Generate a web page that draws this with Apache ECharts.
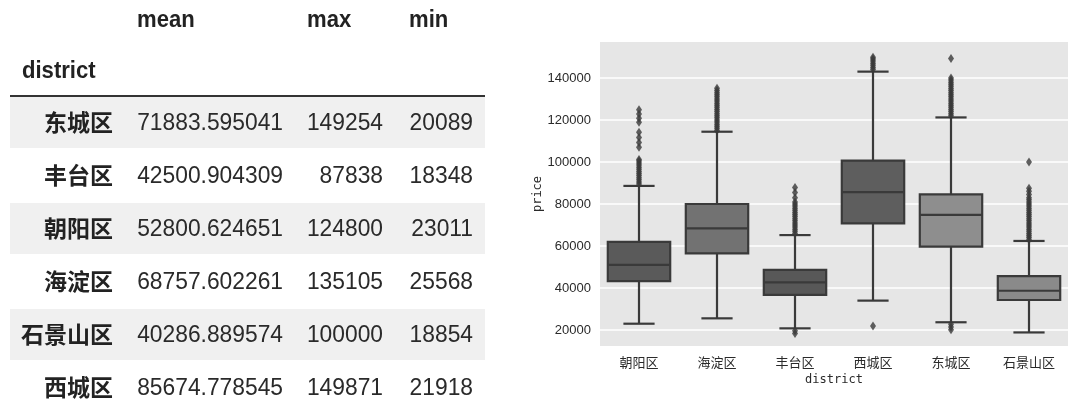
<!DOCTYPE html>
<html><head><meta charset="utf-8">
<script src="https://cdn.jsdelivr.net/npm/echarts@6/dist/echarts.min.js"></script>
<style>
html,body{margin:0;padding:0;background:#fff;width:1080px;height:417px;overflow:hidden;}
#chart{position:absolute;left:0;top:0;width:1080px;height:417px;}
#table{position:absolute;left:0;top:0;width:520px;height:417px;color:#222;}
.t{position:absolute;white-space:nowrap;height:30px;line-height:30px;}
.num{font-family:"Liberation Sans",Arial,sans-serif;font-size:24px;text-align:right;transform:scaleX(0.95);transform-origin:100% 50%;color:#2a2a2a;}
.hdr{font-family:"Liberation Sans",Arial,sans-serif;font-size:23px;font-weight:bold;transform:scaleX(0.96);transform-origin:0 50%;}
.lab{font-family:"Noto Sans CJK SC",sans-serif;font-size:23px;font-weight:bold;text-align:right;}
.band{position:absolute;left:10px;width:475px;background:#f0f0f0;}
.rule{position:absolute;left:10px;width:475px;top:95px;height:2px;background:#333;}
</style></head>
<body>
<div id="chart"></div>
<div id="table"></div>
<script>
// ---- table data ----
const tableColumns = ['mean', 'max', 'min'];
const tableIndexName = 'district';
const tableDistricts = ['东城区', '丰台区', '朝阳区', '海淀区', '石景山区', '西城区'];
const tableMean = ['71883.595041', '42500.904309', '52800.624651', '68757.602261', '40286.889574', '85674.778545'];
const tableMax = ['149254', '87838', '124800', '135105', '100000', '149871'];
const tableMin = ['20089', '18348', '23011', '25568', '18854', '21918'];

// ---- box plot data ----
const categories = ['朝阳区', '海淀区', '丰台区', '西城区', '东城区', '石景山区'];
const whiskerLow = [23011, 25568, 20800, 34000, 23700, 18854];
const quartile1 = [43300, 56500, 36700, 70800, 59700, 34300];
const medians = [51000, 68400, 42700, 85600, 74800, 38700];
const quartile3 = [62000, 80000, 48600, 100600, 84600, 45700];
const whiskerHigh = [88600, 114400, 65200, 143000, 121200, 62400];
const boxColors = ['#5a5a5a', '#727272', '#585858', '#5e5e5e', '#8e8e8e', '#8a8a8a'];
const yTicks = [20000, 40000, 60000, 80000, 100000, 120000, 140000];

const outliersChaoyang = [89500, 90500, 91500, 92500, 93500, 94500, 95500, 96500, 97500, 98500, 99500, 100500, 101200, 107000, 109300, 111700, 114100, 118900, 120800, 122800, 124800];
const outliersHaidian = [115000, 116000, 117000, 118000, 119000, 120000, 121000, 122000, 123000, 124000, 125000, 126000, 127000, 128000, 129000, 130000, 131000, 132000, 133000, 134000, 135105];
const outliersFengtai = [66000, 67000, 68000, 69000, 70000, 71000, 72000, 73000, 74000, 75000, 76000, 77000, 78000, 79000, 80000, 81000, 83000, 85500, 87838, 19600, 18348];
const outliersXicheng = [144000, 145000, 146000, 147000, 148000, 149000, 149871, 21918];
const outliersDongcheng = [122000, 123000, 124000, 125000, 126000, 127000, 128000, 129000, 130000, 131000, 132000, 133000, 134000, 135000, 136000, 137000, 138000, 139000, 140000, 149254, 22800, 21500, 20089];
const outliersShijingshan = [63000, 64000, 65000, 66000, 67000, 68000, 69000, 70000, 71000, 72000, 73000, 74000, 75000, 76000, 77000, 78000, 79000, 80000, 81000, 82000, 83000, 84500, 86000, 87500, 100000];
const outlierLists = [outliersChaoyang, outliersHaidian, outliersFengtai, outliersXicheng, outliersDongcheng, outliersShijingshan];

// ---- build table ----
(function buildTable() {
  const root = document.getElementById('table');
  const rowCenter = i => 122 + i * 53;
  function add(cls, text, style) {
    const d = document.createElement('div');
    d.className = cls;
    d.textContent = text;
    Object.assign(d.style, style);
    root.appendChild(d);
  }
  for (let i = 0; i < tableDistricts.length; i += 2) {
    add('band', '', { top: (rowCenter(i) - 25) + 'px', height: '51px' });
  }
  add('rule', '', {});
  const hdrLeft = [137, 307, 409];
  tableColumns.forEach((c, j) => add('t hdr', c, { left: hdrLeft[j] + 'px', top: (19 - 15) + 'px' }));
  add('t hdr', tableIndexName, { left: '22px', top: (70 - 15) + 'px' });
  const colRight = [283, 383, 473];
  tableDistricts.forEach((name, i) => {
    const cy = rowCenter(i);
    add('t lab', name, { left: '0px', width: '113px', top: (cy - 16) + 'px' });
    [tableMean[i], tableMax[i], tableMin[i]].forEach((v, j) => {
      add('t num', v, { left: '0px', width: colRight[j] + 'px', top: (cy - 15) + 'px' });
    });
  });
})();

// ---- chart ----
const chart = echarts.init(document.getElementById('chart'), null, { renderer: 'canvas' });
const boxSeriesData = categories.map((c, i) => [i, whiskerLow[i], quartile1[i], medians[i], quartile3[i], whiskerHigh[i]]);
const outlierData = [];
outlierLists.forEach((list, i) => list.forEach(v => outlierData.push([i, v])));

const strokeColor = '#3a3a3a';
const option = {
  animation: false,
  grid: { left: 600, right: 12, top: 42, bottom: 71, show: true, backgroundColor: '#e6e6e6', borderWidth: 0 },
  xAxis: {
    type: 'category',
    data: categories,
    axisLine: { show: false },
    axisTick: { show: false },
    splitLine: { show: false },
    axisLabel: { fontFamily: 'Noto Sans CJK SC', fontSize: 13, color: '#2a2a2a', margin: 10 },
    name: 'district',
    nameLocation: 'middle',
    nameGap: 27,
    nameTextStyle: { fontFamily: 'DejaVu Sans Mono', fontSize: 12, color: '#2a2a2a' }
  },
  yAxis: {
    type: 'value',
    min: 12400,
    max: 157100,
    axisLine: { show: false },
    axisTick: { show: false, customValues: yTicks },
    axisLabel: { customValues: yTicks, formatter: v => String(v), fontFamily: 'Liberation Sans', fontSize: 13, color: '#2a2a2a', margin: 9 },
    splitLine: { show: true, lineStyle: { color: '#ffffff', width: 1.5 } },
    name: 'price',
    nameLocation: 'middle',
    nameGap: 56,
    nameTextStyle: { fontFamily: 'DejaVu Sans Mono', fontSize: 12, color: '#2a2a2a' }
  },
  series: [
    {
      type: 'custom',
      data: boxSeriesData,
      encode: { x: 0, y: [1, 2, 3, 4, 5] },
      z: 2,
      renderItem: function (params, api) {
        const idx = api.value(0);
        const low = api.coord([idx, api.value(1)]);
        const q1 = api.coord([idx, api.value(2)]);
        const med = api.coord([idx, api.value(3)]);
        const q3 = api.coord([idx, api.value(4)]);
        const high = api.coord([idx, api.value(5)]);
        const bw = api.size([1, 0])[0] * 0.8;
        const cx = low[0];
        const cap = bw / 4;
        const lw = 2.2;
        const ls = { stroke: strokeColor, lineWidth: lw };
        return {
          type: 'group',
          children: [
            { type: 'line', shape: { x1: cx, y1: low[1], x2: cx, y2: q1[1] }, style: ls },
            { type: 'line', shape: { x1: cx, y1: q3[1], x2: cx, y2: high[1] }, style: ls },
            { type: 'line', shape: { x1: cx - cap, y1: low[1], x2: cx + cap, y2: low[1] }, style: ls },
            { type: 'line', shape: { x1: cx - cap, y1: high[1], x2: cx + cap, y2: high[1] }, style: ls },
            { type: 'rect', shape: { x: cx - bw / 2, y: q3[1], width: bw, height: q1[1] - q3[1] }, style: { fill: boxColors[params.dataIndex], stroke: strokeColor, lineWidth: lw } },
            { type: 'line', shape: { x1: cx - bw / 2, y1: med[1], x2: cx + bw / 2, y2: med[1] }, style: ls }
          ]
        };
      }
    },
    {
      type: 'scatter',
      data: outlierData,
      symbol: 'diamond',
      symbolSize: [6, 9],
      z: 3,
      itemStyle: { color: strokeColor }
    }
  ]
};
chart.setOption(option);
</script>
</body></html>
